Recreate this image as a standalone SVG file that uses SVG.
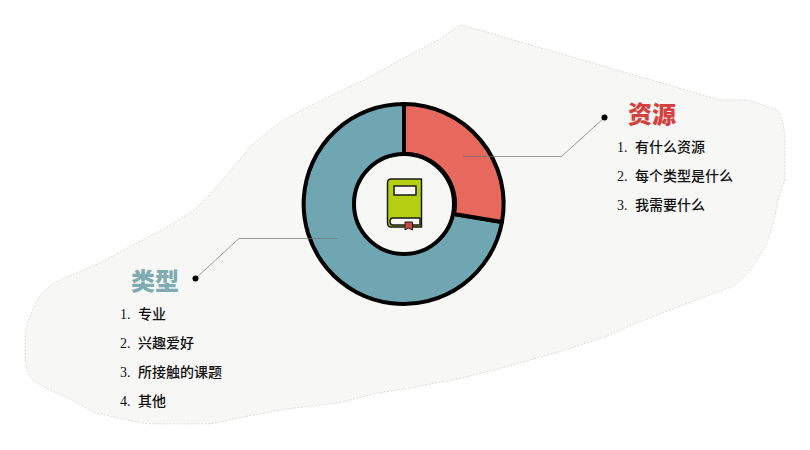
<svg xmlns="http://www.w3.org/2000/svg" width="810" height="450" viewBox="0 0 810 450">
<style>
.seg{stroke:#000;stroke-width:4;stroke-linejoin:round}
.lead{fill:none;stroke:#6e6e6e;stroke-width:.9;stroke-opacity:.75}
.dot{fill:#000}
.head{font-family:"Noto Sans CJK SC",sans-serif;font-weight:900;font-size:24px}
.item{font-family:"Liberation Serif","Noto Sans CJK SC",serif;font-weight:500;font-size:14px;fill:#111;word-spacing:4px}
</style>
<rect width="810" height="450" fill="#fff"/>
<path id="blob" fill="#f7f7f5" stroke="#8c8c8c" stroke-opacity=".6" stroke-width=".5" stroke-dasharray="2 1.500" stroke-linejoin="round" d="M462 25Q455 28 450 32L440 39L400 60L370 77L347 88L308 107L287 118Q268 131 250 147L237 163L220 183L197 208Q182 218 167 227L133 245L100 263L67 277Q52 283 43 292Q36 300 30 317Q25 327 25 340V360Q26 372 33 380Q48 391 67 397L93 412Q112 417 133 421Q145 424 157 424H210L243 417L287 409L343 402L377 393L405 389L462 378L498 369L555 353L605 337L632 325L678 307L725 289Q733 287 737 283Q748 274 755 263Q763 252 768 240Q775 220 778 200Q781 190 785 180V145Q785 120 777 110Q770 107 763 105Q755 102 747 100H720Z"/>
<g id="node-donut">
<path class="seg" fill="#6fa6b2" d="M404 104V154A50 50 0 0 1 454 214L502 222A100 100 0 1 1 404 104Z"/>
<path class="seg" fill="#e7685c" d="M404 104A100 100 0 0 1 502 222L454 214A50 50 0 0 0 404 154Z"/>
<circle cx="404" cy="204" r="50" fill="#f7f7f5" stroke="#000" stroke-width="4"/>
</g>
<g id="connectors">
<path class="lead" d="M463 156.500H561.500L604.500 117.500"/>
<path class="lead" d="M337 238.500H239L195.500 278.500"/>
</g>
<g id="node-book" stroke="#1a1a1a" stroke-width="1.500" stroke-linejoin="round">
<path fill="#b4cf12" d="M391 179H421.500V227H391Q387.500 227 387.500 222V183Q387.500 179 391 179Z"/>
<path fill="#f7f7f5" d="M420 218H393Q390 218 390 221.500Q390 225 393 225H420Z"/>
<rect x="394" y="186" width="22" height="9" fill="#f7f7f5"/>
<path fill="#c9483c" d="M405 222H412.500V230L408.700 228L405 230Z" stroke-width="1"/>
</g>
<circle class="dot" cx="604.500" cy="117.500" r="3"/>
<circle class="dot" cx="195.500" cy="278.500" r="3"/>
<g id="node-resource">
<text class="head" x="628" y="123" fill="#d2423e">资源</text>
<text class="item" x="617" y="152">1. 有什么资源</text>
<text class="item" x="617" y="181">2. 每个类型是什么</text>
<text class="item" x="617" y="210">3. 我需要什么</text>
</g>
<g id="node-type">
<text class="head" x="131" y="290" fill="#7fabb2">类型</text>
<text class="item" x="120" y="319">1. 专业</text>
<text class="item" x="120" y="348">2. 兴趣爱好</text>
<text class="item" x="120" y="377">3. 所接触的课题</text>
<text class="item" x="120" y="406">4. 其他</text>
</g>
</svg>
